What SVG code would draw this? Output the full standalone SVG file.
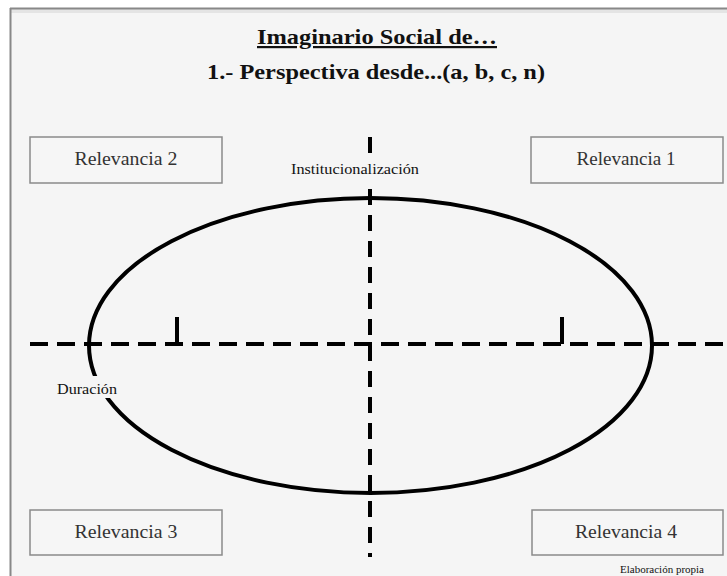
<svg xmlns="http://www.w3.org/2000/svg" width="727" height="576" viewBox="0 0 727 576">
<style>
.t{font-family:"Liberation Serif","Times New Roman",serif;fill:#111}
.box{fill:#f6f6f6;stroke:#8a8a8a;stroke-width:1.5}
.bt{font-family:"Liberation Serif","Times New Roman",serif;font-size:18px;fill:#333;text-anchor:middle}
.dash{stroke:#000;stroke-width:4;fill:none}
</style>
<rect x="0" y="0" width="727" height="576" fill="#ffffff"/>
<rect x="10" y="8" width="717" height="568" fill="#f5f5f5"/>
<rect x="11" y="9" width="716" height="4" fill="#e4e4e4"/>
<line x1="10" y1="8.5" x2="727" y2="8.5" stroke="#888" stroke-width="2"/>
<line x1="10.5" y1="8" x2="10.5" y2="576" stroke="#888" stroke-width="2"/>
<g id="title">
<text class="t" x="377" y="44" font-size="22" font-weight="bold" text-anchor="middle" text-decoration="underline" textLength="240" lengthAdjust="spacingAndGlyphs">Imaginario Social de…</text>
<text class="t" x="376" y="79" font-size="22" font-weight="bold" text-anchor="middle" textLength="338" lengthAdjust="spacingAndGlyphs">1.- Perspectiva desde...(a, b, c, n)</text>
</g>
<g id="connectors">
<line class="dash" x1="370" y1="137" x2="370" y2="557" stroke-dasharray="16 10"/>
<line class="dash" x1="30" y1="344" x2="727" y2="344" stroke-dasharray="18 9"/>
<ellipse class="dash" cx="370.5" cy="345.5" rx="281.5" ry="147.5" stroke-width="3.5"/>
<line class="dash" x1="177" y1="317" x2="177" y2="344" stroke-width="3.5"/>
<line class="dash" x1="562" y1="317" x2="562" y2="344" stroke-width="3.5"/>
</g>
<g id="lbl-institucionalizacion">
<rect x="288" y="158" width="134" height="22" fill="#f5f5f5"/>
<text class="t" x="355" y="174" font-size="14" text-anchor="middle" fill="#333" textLength="128" lengthAdjust="spacingAndGlyphs">Institucionalización</text>
</g>
<g id="lbl-duracion">
<rect x="54" y="376" width="66" height="22" fill="#f5f5f5"/>
<text class="t" x="87" y="394" font-size="14" text-anchor="middle" fill="#333" textLength="60" lengthAdjust="spacingAndGlyphs">Duración</text>
</g>
<g id="relevancia2">
<rect class="box" x="30" y="137" width="192" height="46"/>
<text class="bt" x="126" y="165" textLength="103" lengthAdjust="spacingAndGlyphs">Relevancia 2</text>
</g>
<g id="relevancia1">
<rect class="box" x="531" y="137" width="192" height="46"/>
<text class="bt" x="626" y="165" textLength="99" lengthAdjust="spacingAndGlyphs">Relevancia 1</text>
</g>
<g id="relevancia3">
<rect class="box" x="30" y="510" width="192" height="45"/>
<text class="bt" x="126" y="538" textLength="103" lengthAdjust="spacingAndGlyphs">Relevancia 3</text>
</g>
<g id="relevancia4">
<rect class="box" x="532" y="510" width="191" height="45"/>
<text class="bt" x="626" y="538" textLength="102" lengthAdjust="spacingAndGlyphs">Relevancia 4</text>
</g>
<g id="footer">
<text class="t" x="620" y="573" font-size="11" fill="#333">Elaboración propia</text>
</g>
</svg>
